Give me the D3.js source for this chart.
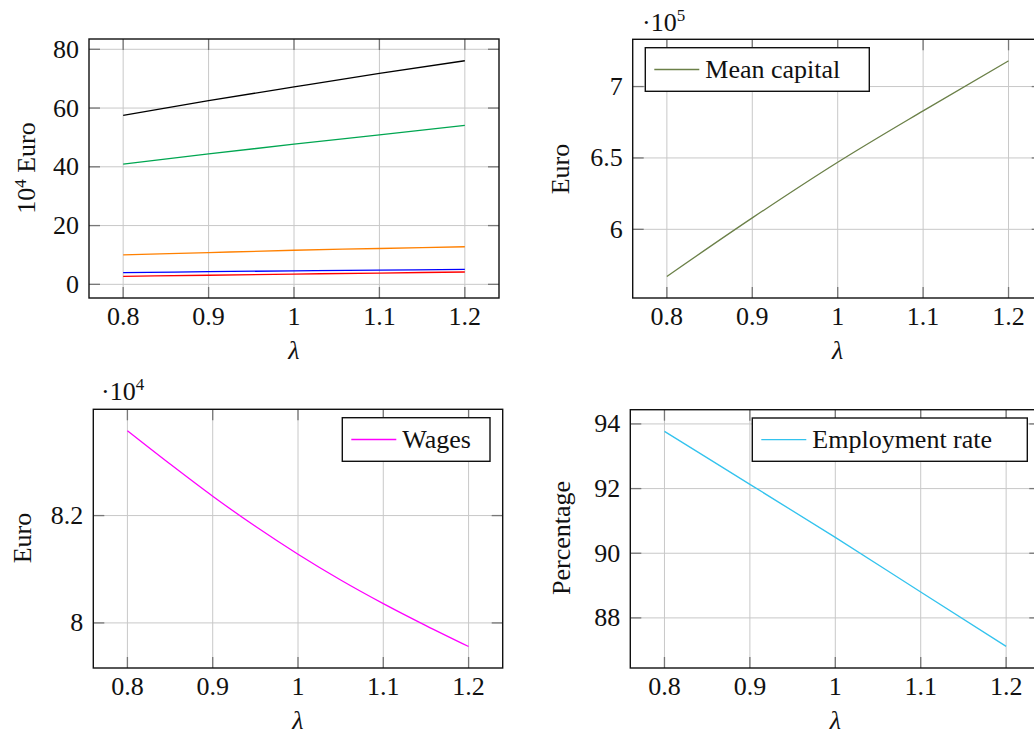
<!DOCTYPE html>
<html><head><meta charset="utf-8">
<script src="https://cdn.jsdelivr.net/npm/d3@7"></script>
<style>
body{margin:0;background:#fff;}
svg{display:block;font-family:"Liberation Serif","DejaVu Serif",serif;}
</style></head>
<body><svg id="c" width="1034" height="734"></svg>
<script>
// ---- data ----
const lambda = [0.8, 0.9, 1.0, 1.1, 1.2];
const xTicks = [0.8, 0.9, 1.0, 1.1, 1.2];
const xTickLabels = ["0.8", "0.9", "1", "1.1", "1.2"];

// panel 1 (10^4 Euro)
const seriesBlack  = [57.5, 62.5, 67.2, 71.8, 76.1];
const seriesGreen  = [40.9, 44.4, 47.7, 50.9, 54.1];
const seriesOrange = [10.0, 10.8, 11.6, 12.2, 12.8];
const seriesBlue   = [4.0, 4.3, 4.6, 4.85, 5.1];
const seriesRed    = [2.7, 3.1, 3.5, 3.85, 4.2];
const p1Ticks = [0, 20, 40, 60, 80];

// panel 2 (mean capital, x10^5)
const meanCapital = [5.67, 6.08, 6.47, 6.83, 7.18];
const p2Ticks = [6, 6.5, 7];
const p2TickLabels = ["6", "6.5", "7"];

// panel 3 (wages, x10^4)
const lambdaWages = [0.8, 0.85, 0.9, 0.95, 1.0, 1.05, 1.1, 1.15, 1.2];
const wages = [8.358, 8.296, 8.236, 8.180, 8.128, 8.080, 8.036, 7.995, 7.956];
const p3Ticks = [8, 8.2];
const p3TickLabels = ["8", "8.2"];

// panel 4 (employment rate)
const employment = [93.77, 92.13, 90.49, 88.80, 87.12];
const p4Ticks = [88, 90, 92, 94];

// ---- drawing ----
const svg = d3.select("#c");
const FS = 26;
const xDomain = [0.76, 1.24];

function panel(o) {
  const x = d3.scaleLinear().domain(xDomain).range([o.left, o.right]);
  const y = d3.scaleLinear().domain(o.yDomain).range([o.bottom, o.top]);
  const g = svg.append("g");
  // grid
  g.selectAll(".gx").data(xTicks).enter().append("line")
    .attr("x1", d => x(d)).attr("x2", d => x(d))
    .attr("y1", o.top).attr("y2", o.bottom)
    .attr("stroke", "#c8c8c8").attr("stroke-width", 1);
  g.selectAll(".gy").data(o.yTicks).enter().append("line")
    .attr("x1", o.left).attr("x2", o.right)
    .attr("y1", d => y(d)).attr("y2", d => y(d))
    .attr("stroke", "#c8c8c8").attr("stroke-width", 1);
  // inner ticks
  const TL = 11;
  xTicks.forEach(d => {
    g.append("line").attr("x1", x(d)).attr("x2", x(d)).attr("y1", o.bottom).attr("y2", o.bottom - TL).attr("stroke", "#777").attr("stroke-width", 1.3);
    g.append("line").attr("x1", x(d)).attr("x2", x(d)).attr("y1", o.top).attr("y2", o.top + TL).attr("stroke", "#777").attr("stroke-width", 1.3);
  });
  o.yTicks.forEach(d => {
    g.append("line").attr("x1", o.left).attr("x2", o.left + TL).attr("y1", y(d)).attr("y2", y(d)).attr("stroke", "#777").attr("stroke-width", 1.3);
    g.append("line").attr("x1", o.right).attr("x2", o.right - TL).attr("y1", y(d)).attr("y2", y(d)).attr("stroke", "#777").attr("stroke-width", 1.3);
  });
  // series
  o.series.forEach(s => {
    const line = d3.line().x((d, i) => x(s.xs[i])).y(d => y(d)).curve(d3.curveMonotoneX);
    g.append("path").datum(s.values).attr("d", line)
      .attr("fill", "none").attr("stroke", s.color).attr("stroke-width", 1.3);
  });
  // box
  g.append("rect").attr("x", o.left).attr("y", o.top)
    .attr("width", o.right - o.left).attr("height", o.bottom - o.top)
    .attr("fill", "none").attr("stroke", "#111").attr("stroke-width", 1.4);
  // tick labels
  g.selectAll(".xl").data(xTicks).enter().append("text")
    .attr("x", d => x(d)).attr("y", o.bottom + 27)
    .attr("text-anchor", "middle").attr("font-size", FS).attr("fill", "#111")
    .text((d, i) => xTickLabels[i]);
  g.selectAll(".yl").data(o.yTicks).enter().append("text")
    .attr("x", o.left - 10).attr("y", d => y(d) + 8.5)
    .attr("text-anchor", "end").attr("font-size", FS).attr("fill", "#111")
    .text((d, i) => o.yTickLabels ? o.yTickLabels[i] : String(d));
  // x label
  g.append("text").attr("x", (x(0.8) + x(1.2)) / 2).attr("y", o.bottom + 61)
    .attr("text-anchor", "middle").attr("font-size", FS).attr("font-style", "italic")
    .attr("fill", "#111").text("λ");
  // y label
  const yl = g.append("text")
    .attr("transform", `translate(${o.yLabelX},${o.yLabelY}) rotate(-90)`)
    .attr("text-anchor", "middle").attr("font-size", FS).attr("fill", "#111");
  if (o.yLabelSup) {
    yl.append("tspan").text("10");
    yl.append("tspan").attr("dy", -9).attr("font-size", 17).text("4");
    yl.append("tspan").attr("dy", 9).text(" Euro");
  } else yl.text(o.yLabel);
  // exponent
  if (o.exponent) {
    const t = g.append("text").attr("x", o.exponent.x).attr("y", o.exponent.y)
      .attr("font-size", FS).attr("fill", "#111");
    t.append("tspan").text("·10");
    t.append("tspan").attr("dy", -10).attr("font-size", 17).text(o.exponent.p);
  }
  // legend
  if (o.legend) {
    const L = o.legend;
    g.append("rect").attr("x", L.x0).attr("y", L.y0).attr("width", L.x1 - L.x0).attr("height", L.y1 - L.y0)
      .attr("fill", "#fff").attr("stroke", "#111").attr("stroke-width", 1.4);
    const cy = (L.y0 + L.y1) / 2;
    g.append("line").attr("x1", L.x0 + 9).attr("x2", L.x0 + 54).attr("y1", cy).attr("y2", cy)
      .attr("stroke", L.color).attr("stroke-width", 1.3);
    g.append("text").attr("x", L.x0 + 60).attr("y", cy + 8.5).attr("font-size", FS).attr("fill", "#111").text(L.text);
  }
}

panel({
  left: 89, right: 499, top: 39, bottom: 298, yDomain: [-4.65, 83.5],
  yTicks: p1Ticks, yLabelSup: true, yLabelX: 35, yLabelY: 168,
  series: [
    { xs: lambda, values: seriesBlack, color: "#000000" },
    { xs: lambda, values: seriesGreen, color: "#00A651" },
    { xs: lambda, values: seriesOrange, color: "#FF8000" },
    { xs: lambda, values: seriesBlue, color: "#0000FF" },
    { xs: lambda, values: seriesRed, color: "#FF0000" }
  ]
});
panel({
  left: 632.7, right: 1042.7, top: 39.3, bottom: 298, yDomain: [5.519, 7.331],
  yTicks: p2Ticks, yTickLabels: p2TickLabels, yLabel: "Euro", yLabelX: 569, yLabelY: 169,
  exponent: { x: 642, y: 31, p: "5" },
  legend: { x0: 645.3, x1: 869.3, y0: 47.7, y1: 91.3, color: "#6B8048", text: "Mean capital" },
  series: [{ xs: lambda, values: meanCapital, color: "#6B8048" }]
});
panel({
  left: 93.3, right: 502.7, top: 409.3, bottom: 668, yDomain: [7.916, 8.398],
  yTicks: p3Ticks, yTickLabels: p3TickLabels, yLabel: "Euro", yLabelX: 31, yLabelY: 538,
  exponent: { x: 101, y: 400, p: "4" },
  legend: { x0: 342.3, x1: 490, y0: 417.7, y1: 461.3, color: "#FF00FF", text: "Wages" },
  series: [{ xs: lambdaWages, values: wages, color: "#FF00FF" }]
});
panel({
  left: 630.3, right: 1040.3, top: 409.7, bottom: 668, yDomain: [86.45, 94.44],
  yTicks: p4Ticks, yLabel: "Percentage", yLabelX: 570, yLabelY: 538,
  legend: { x0: 752.3, x1: 1027.3, y0: 418, y1: 461.3, color: "#33C3EE", text: "Employment rate" },
  series: [{ xs: lambda, values: employment, color: "#33C3EE" }]
});
</script></body></html>
